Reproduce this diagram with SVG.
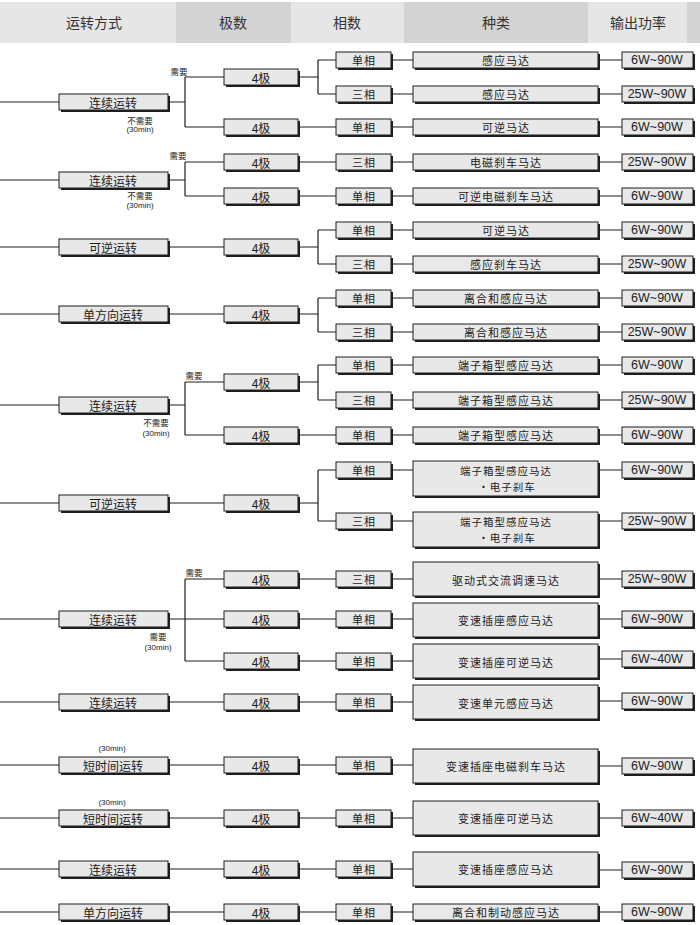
<svg xmlns="http://www.w3.org/2000/svg" width="700" height="925" viewBox="0 0 700 925">
<style>
.hl{fill:#e6e6e6}
.hd{fill:#d3d3d3}
.ht{font-family:"Noto Sans CJK SC",sans-serif;font-size:14px;fill:#333;text-anchor:middle;dominant-baseline:central}
.sh{fill:#1e1e1e}
.bx{fill:#e8e8e8;stroke:#1e1e1e;stroke-width:1}
.t{font-family:"Noto Sans CJK SC",sans-serif;font-size:12px;fill:#222;text-anchor:middle;dominant-baseline:central}
.k{font-family:"Noto Sans CJK SC",sans-serif;font-size:11px;letter-spacing:1px;fill:#222;text-anchor:middle;dominant-baseline:central}
.k2{font-family:"Noto Sans CJK SC",sans-serif;font-size:10.5px;letter-spacing:1px;fill:#222;text-anchor:middle;dominant-baseline:central}
.p{font-family:"Liberation Sans",Arial,sans-serif;font-size:12.5px;fill:#222;text-anchor:middle;dominant-baseline:central}
.s{font-family:"Noto Sans CJK SC",sans-serif;font-size:8.5px;fill:#222;text-anchor:middle;dominant-baseline:central}
.m{font-family:"Liberation Sans",Arial,sans-serif;font-size:8px;fill:#222;text-anchor:middle;dominant-baseline:central}
.ln{stroke:#1e1e1e;stroke-width:1.2;fill:none}
</style>

<g id="header">
<rect class="hl" x="0" y="2" width="176" height="41"/>
<rect class="hd" x="176" y="2" width="115" height="41"/>
<rect class="hl" x="291" y="2" width="113" height="41"/>
<rect class="hd" x="404" y="2" width="184" height="41"/>
<rect class="hl" x="588" y="2" width="99" height="41"/>
<rect class="hd" x="687" y="2" width="13" height="41"/>
<text class="ht" x="94" y="22">运转方式</text>
<text class="ht" x="233" y="22">极数</text>
<text class="ht" x="347" y="22">相数</text>
<text class="ht" x="496" y="22">种类</text>
<text class="ht" x="638" y="22">输出功率</text>
</g>

<g id="connectors">
<path class="ln" d="M0,102H59 M168,102H185 M185,77V127 M185,77H224 M185,127H224 M298,77H318 M318,60V94 M318,60H336 M318,94H336 M298,127H336"/>
<path class="ln" d="M0,180H59 M168,180H185 M185,162V196 M185,162H224 M185,196H224 M298,162H336 M298,196H336"/>
<path class="ln" d="M0,247H59 M168,247H224 M298,247H318 M318,230V264 M318,230H336 M318,264H336"/>
<path class="ln" d="M0,314H59 M168,314H224 M298,314H318 M318,298V332 M318,298H336 M318,332H336"/>
<path class="ln" d="M0,405H59 M168,405H185 M185,382V435 M185,382H224 M185,435H224 M298,382H318 M318,365V400 M318,365H336 M318,400H336 M298,435H336"/>
<path class="ln" d="M0,503H59 M168,503H224 M298,503H318 M318,470V521 M318,470H336 M318,521H336"/>
<path class="ln" d="M0,619H59 M168,619H224 M185,579V661 M185,579H224 M185,661H224 M298,579H336 M298,619H336 M298,661H336"/>
<path class="ln" d="M0,702H59 M168,702H224 M298,702H336"/>
<path class="ln" d="M0,765H59 M168,765H224 M298,765H336"/>
<path class="ln" d="M0,818H59 M168,818H224 M298,818H336"/>
<path class="ln" d="M0,869H59 M168,869H224 M298,869H336"/>
<path class="ln" d="M0,912H59 M168,912H224 M298,912H336"/>
<path class="ln" d="M391,60H413 M598,60H622 M391,94H413 M598,94H622 M391,127H413 M598,127H622 M391,162H413 M598,162H622 M391,196H413 M598,196H622 M391,230H413 M598,230H622 M391,264H413 M598,264H622 M391,298H413 M598,298H622 M391,332H413 M598,332H622 M391,365H413 M598,365H622 M391,400H413 M598,400H622 M391,435H413 M598,435H622 M391,470H413 M598,470H622 M391,521H413 M598,521H622 M391,579H413 M598,579H622 M391,619H413 M598,619H622 M391,661H413 M598,659H622 M391,702H413 M598,701H622 M391,765H413 M598,766H622 M391,818H413 M598,818H622 M391,869H413 M598,870H622 M391,912H413 M598,912H622"/>
</g>

<g id="labels">
<text class="s" x="179" y="71">需要</text>
<text class="s" x="140" y="120">不需要</text>
<text class="m" x="140" y="129">(30min)</text>
<text class="s" x="178" y="155">需要</text>
<text class="s" x="140" y="195">不需要</text>
<text class="m" x="140" y="205">(30min)</text>
<text class="s" x="194" y="375">需要</text>
<text class="s" x="156" y="422">不需要</text>
<text class="m" x="156" y="433">(30min)</text>
<text class="s" x="194" y="572">需要</text>
<text class="s" x="158" y="636">需要</text>
<text class="m" x="158" y="647">(30min)</text>
<text class="m" x="112" y="748">(30min)</text>
<text class="m" x="112" y="802">(30min)</text>
</g>

<g id="run1"><rect class="sh" x="61" y="96" width="109" height="16"/><rect class="bx" x="59" y="94" width="109" height="16"/><text class="t" x="113" y="102">连续运转</text></g>
<g id="run2"><rect class="sh" x="61" y="174" width="109" height="16"/><rect class="bx" x="59" y="172" width="109" height="16"/><text class="t" x="113" y="180">连续运转</text></g>
<g id="run3"><rect class="sh" x="61" y="241" width="109" height="16"/><rect class="bx" x="59" y="239" width="109" height="16"/><text class="t" x="113" y="247">可逆运转</text></g>
<g id="run4"><rect class="sh" x="61" y="308" width="109" height="16"/><rect class="bx" x="59" y="306" width="109" height="16"/><text class="t" x="113" y="314">单方向运转</text></g>
<g id="run5"><rect class="sh" x="61" y="399" width="109" height="16"/><rect class="bx" x="59" y="397" width="109" height="16"/><text class="t" x="113" y="405">连续运转</text></g>
<g id="run6"><rect class="sh" x="61" y="497" width="109" height="16"/><rect class="bx" x="59" y="495" width="109" height="16"/><text class="t" x="113" y="503">可逆运转</text></g>
<g id="run7"><rect class="sh" x="61" y="613" width="109" height="16"/><rect class="bx" x="59" y="611" width="109" height="16"/><text class="t" x="113" y="619">连续运转</text></g>
<g id="run8"><rect class="sh" x="61" y="696" width="109" height="16"/><rect class="bx" x="59" y="694" width="109" height="16"/><text class="t" x="113" y="702">连续运转</text></g>
<g id="run9"><rect class="sh" x="61" y="759" width="109" height="16"/><rect class="bx" x="59" y="757" width="109" height="16"/><text class="t" x="113" y="765">短时间运转</text></g>
<g id="run10"><rect class="sh" x="61" y="812" width="109" height="16"/><rect class="bx" x="59" y="810" width="109" height="16"/><text class="t" x="113" y="818">短时间运转</text></g>
<g id="run11"><rect class="sh" x="61" y="863" width="109" height="16"/><rect class="bx" x="59" y="861" width="109" height="16"/><text class="t" x="113" y="869">连续运转</text></g>
<g id="run12"><rect class="sh" x="61" y="906" width="109" height="16"/><rect class="bx" x="59" y="904" width="109" height="16"/><text class="t" x="113" y="912">单方向运转</text></g>

<g id="pole1"><rect class="sh" x="226" y="71" width="74" height="16"/><rect class="bx" x="224" y="69" width="74" height="16"/><text class="t" x="261" y="77">4极</text></g>
<g id="pole2"><rect class="sh" x="226" y="121" width="74" height="16"/><rect class="bx" x="224" y="119" width="74" height="16"/><text class="t" x="261" y="127">4极</text></g>
<g id="pole3"><rect class="sh" x="226" y="156" width="74" height="16"/><rect class="bx" x="224" y="154" width="74" height="16"/><text class="t" x="261" y="162">4极</text></g>
<g id="pole4"><rect class="sh" x="226" y="190" width="74" height="16"/><rect class="bx" x="224" y="188" width="74" height="16"/><text class="t" x="261" y="196">4极</text></g>
<g id="pole5"><rect class="sh" x="226" y="241" width="74" height="16"/><rect class="bx" x="224" y="239" width="74" height="16"/><text class="t" x="261" y="247">4极</text></g>
<g id="pole6"><rect class="sh" x="226" y="308" width="74" height="16"/><rect class="bx" x="224" y="306" width="74" height="16"/><text class="t" x="261" y="314">4极</text></g>
<g id="pole7"><rect class="sh" x="226" y="376" width="74" height="16"/><rect class="bx" x="224" y="374" width="74" height="16"/><text class="t" x="261" y="382">4极</text></g>
<g id="pole8"><rect class="sh" x="226" y="429" width="74" height="16"/><rect class="bx" x="224" y="427" width="74" height="16"/><text class="t" x="261" y="435">4极</text></g>
<g id="pole9"><rect class="sh" x="226" y="497" width="74" height="16"/><rect class="bx" x="224" y="495" width="74" height="16"/><text class="t" x="261" y="503">4极</text></g>
<g id="pole10"><rect class="sh" x="226" y="573" width="74" height="16"/><rect class="bx" x="224" y="571" width="74" height="16"/><text class="t" x="261" y="579">4极</text></g>
<g id="pole11"><rect class="sh" x="226" y="613" width="74" height="16"/><rect class="bx" x="224" y="611" width="74" height="16"/><text class="t" x="261" y="619">4极</text></g>
<g id="pole12"><rect class="sh" x="226" y="655" width="74" height="16"/><rect class="bx" x="224" y="653" width="74" height="16"/><text class="t" x="261" y="661">4极</text></g>
<g id="pole13"><rect class="sh" x="226" y="696" width="74" height="16"/><rect class="bx" x="224" y="694" width="74" height="16"/><text class="t" x="261" y="702">4极</text></g>
<g id="pole14"><rect class="sh" x="226" y="759" width="74" height="16"/><rect class="bx" x="224" y="757" width="74" height="16"/><text class="t" x="261" y="765">4极</text></g>
<g id="pole15"><rect class="sh" x="226" y="812" width="74" height="16"/><rect class="bx" x="224" y="810" width="74" height="16"/><text class="t" x="261" y="818">4极</text></g>
<g id="pole16"><rect class="sh" x="226" y="863" width="74" height="16"/><rect class="bx" x="224" y="861" width="74" height="16"/><text class="t" x="261" y="869">4极</text></g>
<g id="pole17"><rect class="sh" x="226" y="906" width="74" height="16"/><rect class="bx" x="224" y="904" width="74" height="16"/><text class="t" x="261" y="912">4极</text></g>

<g id="ph1"><rect class="sh" x="338" y="54" width="55" height="16"/><rect class="bx" x="336" y="52" width="55" height="16"/><text class="k" x="364" y="60">单相</text></g>
<g id="ph2"><rect class="sh" x="338" y="88" width="55" height="16"/><rect class="bx" x="336" y="86" width="55" height="16"/><text class="k" x="364" y="94">三相</text></g>
<g id="ph3"><rect class="sh" x="338" y="121" width="55" height="16"/><rect class="bx" x="336" y="119" width="55" height="16"/><text class="k" x="364" y="127">单相</text></g>
<g id="ph4"><rect class="sh" x="338" y="156" width="55" height="16"/><rect class="bx" x="336" y="154" width="55" height="16"/><text class="k" x="364" y="162">三相</text></g>
<g id="ph5"><rect class="sh" x="338" y="190" width="55" height="16"/><rect class="bx" x="336" y="188" width="55" height="16"/><text class="k" x="364" y="196">单相</text></g>
<g id="ph6"><rect class="sh" x="338" y="224" width="55" height="16"/><rect class="bx" x="336" y="222" width="55" height="16"/><text class="k" x="364" y="230">单相</text></g>
<g id="ph7"><rect class="sh" x="338" y="258" width="55" height="16"/><rect class="bx" x="336" y="256" width="55" height="16"/><text class="k" x="364" y="264">三相</text></g>
<g id="ph8"><rect class="sh" x="338" y="292" width="55" height="16"/><rect class="bx" x="336" y="290" width="55" height="16"/><text class="k" x="364" y="298">单相</text></g>
<g id="ph9"><rect class="sh" x="338" y="326" width="55" height="16"/><rect class="bx" x="336" y="324" width="55" height="16"/><text class="k" x="364" y="332">三相</text></g>
<g id="ph10"><rect class="sh" x="338" y="359" width="55" height="16"/><rect class="bx" x="336" y="357" width="55" height="16"/><text class="k" x="364" y="365">单相</text></g>
<g id="ph11"><rect class="sh" x="338" y="394" width="55" height="16"/><rect class="bx" x="336" y="392" width="55" height="16"/><text class="k" x="364" y="400">三相</text></g>
<g id="ph12"><rect class="sh" x="338" y="429" width="55" height="16"/><rect class="bx" x="336" y="427" width="55" height="16"/><text class="k" x="364" y="435">单相</text></g>
<g id="ph13"><rect class="sh" x="338" y="464" width="55" height="16"/><rect class="bx" x="336" y="462" width="55" height="16"/><text class="k" x="364" y="470">单相</text></g>
<g id="ph14"><rect class="sh" x="338" y="515" width="55" height="16"/><rect class="bx" x="336" y="513" width="55" height="16"/><text class="k" x="364" y="521">三相</text></g>
<g id="ph15"><rect class="sh" x="338" y="573" width="55" height="16"/><rect class="bx" x="336" y="571" width="55" height="16"/><text class="k" x="364" y="579">三相</text></g>
<g id="ph16"><rect class="sh" x="338" y="613" width="55" height="16"/><rect class="bx" x="336" y="611" width="55" height="16"/><text class="k" x="364" y="619">单相</text></g>
<g id="ph17"><rect class="sh" x="338" y="655" width="55" height="16"/><rect class="bx" x="336" y="653" width="55" height="16"/><text class="k" x="364" y="661">单相</text></g>
<g id="ph18"><rect class="sh" x="338" y="696" width="55" height="16"/><rect class="bx" x="336" y="694" width="55" height="16"/><text class="k" x="364" y="702">单相</text></g>
<g id="ph19"><rect class="sh" x="338" y="759" width="55" height="16"/><rect class="bx" x="336" y="757" width="55" height="16"/><text class="k" x="364" y="765">单相</text></g>
<g id="ph20"><rect class="sh" x="338" y="812" width="55" height="16"/><rect class="bx" x="336" y="810" width="55" height="16"/><text class="k" x="364" y="818">单相</text></g>
<g id="ph21"><rect class="sh" x="338" y="863" width="55" height="16"/><rect class="bx" x="336" y="861" width="55" height="16"/><text class="k" x="364" y="869">单相</text></g>
<g id="ph22"><rect class="sh" x="338" y="906" width="55" height="16"/><rect class="bx" x="336" y="904" width="55" height="16"/><text class="k" x="364" y="912">单相</text></g>

<g id="ty1"><rect class="sh" x="415" y="54" width="185" height="16"/><rect class="bx" x="413" y="52" width="185" height="16"/><text class="k" x="506" y="60">感应马达</text></g>
<g id="ty2"><rect class="sh" x="415" y="88" width="185" height="16"/><rect class="bx" x="413" y="86" width="185" height="16"/><text class="k" x="506" y="94">感应马达</text></g>
<g id="ty3"><rect class="sh" x="415" y="121" width="185" height="16"/><rect class="bx" x="413" y="119" width="185" height="16"/><text class="k" x="506" y="127">可逆马达</text></g>
<g id="ty4"><rect class="sh" x="415" y="156" width="185" height="16"/><rect class="bx" x="413" y="154" width="185" height="16"/><text class="k" x="506" y="162">电磁刹车马达</text></g>
<g id="ty5"><rect class="sh" x="415" y="190" width="185" height="16"/><rect class="bx" x="413" y="188" width="185" height="16"/><text class="k" x="506" y="196">可逆电磁刹车马达</text></g>
<g id="ty6"><rect class="sh" x="415" y="224" width="185" height="16"/><rect class="bx" x="413" y="222" width="185" height="16"/><text class="k" x="506" y="230">可逆马达</text></g>
<g id="ty7"><rect class="sh" x="415" y="258" width="185" height="16"/><rect class="bx" x="413" y="256" width="185" height="16"/><text class="k" x="506" y="264">感应刹车马达</text></g>
<g id="ty8"><rect class="sh" x="415" y="292" width="185" height="16"/><rect class="bx" x="413" y="290" width="185" height="16"/><text class="k" x="506" y="298">离合和感应马达</text></g>
<g id="ty9"><rect class="sh" x="415" y="326" width="185" height="16"/><rect class="bx" x="413" y="324" width="185" height="16"/><text class="k" x="506" y="332">离合和感应马达</text></g>
<g id="ty10"><rect class="sh" x="415" y="359" width="185" height="16"/><rect class="bx" x="413" y="357" width="185" height="16"/><text class="k" x="506" y="365">端子箱型感应马达</text></g>
<g id="ty11"><rect class="sh" x="415" y="394" width="185" height="16"/><rect class="bx" x="413" y="392" width="185" height="16"/><text class="k" x="506" y="400">端子箱型感应马达</text></g>
<g id="ty12"><rect class="sh" x="415" y="429" width="185" height="16"/><rect class="bx" x="413" y="427" width="185" height="16"/><text class="k" x="506" y="435">端子箱型感应马达</text></g>
<g id="ty13"><rect class="sh" x="415" y="463" width="185" height="35"/><rect class="bx" x="413" y="461" width="185" height="35"/><text class="k2" x="506" y="470.5">端子箱型感应马达</text><text class="k2" x="507" y="486.5">・电子刹车</text></g>
<g id="ty14"><rect class="sh" x="415" y="514" width="185" height="35"/><rect class="bx" x="413" y="512" width="185" height="35"/><text class="k2" x="506" y="521.5">端子箱型感应马达</text><text class="k2" x="507" y="537.5">・电子刹车</text></g>
<g id="ty15"><rect class="sh" x="415" y="564" width="185" height="34"/><rect class="bx" x="413" y="562" width="185" height="34"/><text class="k" x="506" y="580">驱动式交流调速马达</text></g>
<g id="ty16"><rect class="sh" x="415" y="605" width="185" height="34"/><rect class="bx" x="413" y="603" width="185" height="34"/><text class="k" x="506" y="620">变速插座感应马达</text></g>
<g id="ty17"><rect class="sh" x="415" y="646" width="185" height="34"/><rect class="bx" x="413" y="644" width="185" height="34"/><text class="k" x="506" y="662">变速插座可逆马达</text></g>
<g id="ty18"><rect class="sh" x="415" y="687" width="185" height="34"/><rect class="bx" x="413" y="685" width="185" height="34"/><text class="k" x="506" y="703">变速单元感应马达</text></g>
<g id="ty19"><rect class="sh" x="415" y="751" width="185" height="34"/><rect class="bx" x="413" y="749" width="185" height="34"/><text class="k" x="506" y="766">变速插座电磁刹车马达</text></g>
<g id="ty20"><rect class="sh" x="415" y="803" width="185" height="34"/><rect class="bx" x="413" y="801" width="185" height="34"/><text class="k" x="506" y="818">变速插座可逆马达</text></g>
<g id="ty21"><rect class="sh" x="415" y="854" width="185" height="34"/><rect class="bx" x="413" y="852" width="185" height="34"/><text class="k" x="506" y="869">变速插座感应马达</text></g>
<g id="ty22"><rect class="sh" x="415" y="906" width="185" height="16"/><rect class="bx" x="413" y="904" width="185" height="16"/><text class="k" x="506" y="912">离合和制动感应马达</text></g>

<g id="pw1"><rect class="sh" x="624" y="54" width="71" height="16"/><rect class="bx" x="622" y="52" width="71" height="16"/><text class="p" x="657" y="60">6W~90W</text></g>
<g id="pw2"><rect class="sh" x="624" y="88" width="71" height="16"/><rect class="bx" x="622" y="86" width="71" height="16"/><text class="p" x="657" y="94">25W~90W</text></g>
<g id="pw3"><rect class="sh" x="624" y="121" width="71" height="16"/><rect class="bx" x="622" y="119" width="71" height="16"/><text class="p" x="657" y="127">6W~90W</text></g>
<g id="pw4"><rect class="sh" x="624" y="156" width="71" height="16"/><rect class="bx" x="622" y="154" width="71" height="16"/><text class="p" x="657" y="162">25W~90W</text></g>
<g id="pw5"><rect class="sh" x="624" y="190" width="71" height="16"/><rect class="bx" x="622" y="188" width="71" height="16"/><text class="p" x="657" y="196">6W~90W</text></g>
<g id="pw6"><rect class="sh" x="624" y="224" width="71" height="16"/><rect class="bx" x="622" y="222" width="71" height="16"/><text class="p" x="657" y="230">6W~90W</text></g>
<g id="pw7"><rect class="sh" x="624" y="258" width="71" height="16"/><rect class="bx" x="622" y="256" width="71" height="16"/><text class="p" x="657" y="264">25W~90W</text></g>
<g id="pw8"><rect class="sh" x="624" y="292" width="71" height="16"/><rect class="bx" x="622" y="290" width="71" height="16"/><text class="p" x="657" y="298">6W~90W</text></g>
<g id="pw9"><rect class="sh" x="624" y="326" width="71" height="16"/><rect class="bx" x="622" y="324" width="71" height="16"/><text class="p" x="657" y="332">25W~90W</text></g>
<g id="pw10"><rect class="sh" x="624" y="359" width="71" height="16"/><rect class="bx" x="622" y="357" width="71" height="16"/><text class="p" x="657" y="365">6W~90W</text></g>
<g id="pw11"><rect class="sh" x="624" y="394" width="71" height="16"/><rect class="bx" x="622" y="392" width="71" height="16"/><text class="p" x="657" y="400">25W~90W</text></g>
<g id="pw12"><rect class="sh" x="624" y="429" width="71" height="16"/><rect class="bx" x="622" y="427" width="71" height="16"/><text class="p" x="657" y="435">6W~90W</text></g>
<g id="pw13"><rect class="sh" x="624" y="464" width="71" height="16"/><rect class="bx" x="622" y="462" width="71" height="16"/><text class="p" x="657" y="470">6W~90W</text></g>
<g id="pw14"><rect class="sh" x="624" y="515" width="71" height="16"/><rect class="bx" x="622" y="513" width="71" height="16"/><text class="p" x="657" y="521">25W~90W</text></g>
<g id="pw15"><rect class="sh" x="624" y="573" width="71" height="16"/><rect class="bx" x="622" y="571" width="71" height="16"/><text class="p" x="657" y="579">25W~90W</text></g>
<g id="pw16"><rect class="sh" x="624" y="613" width="71" height="16"/><rect class="bx" x="622" y="611" width="71" height="16"/><text class="p" x="657" y="619">6W~90W</text></g>
<g id="pw17"><rect class="sh" x="624" y="653" width="71" height="16"/><rect class="bx" x="622" y="651" width="71" height="16"/><text class="p" x="657" y="659">6W~40W</text></g>
<g id="pw18"><rect class="sh" x="624" y="695" width="71" height="16"/><rect class="bx" x="622" y="693" width="71" height="16"/><text class="p" x="657" y="701">6W~90W</text></g>
<g id="pw19"><rect class="sh" x="624" y="760" width="71" height="16"/><rect class="bx" x="622" y="758" width="71" height="16"/><text class="p" x="657" y="766">6W~90W</text></g>
<g id="pw20"><rect class="sh" x="624" y="812" width="71" height="16"/><rect class="bx" x="622" y="810" width="71" height="16"/><text class="p" x="657" y="818">6W~40W</text></g>
<g id="pw21"><rect class="sh" x="624" y="864" width="71" height="16"/><rect class="bx" x="622" y="862" width="71" height="16"/><text class="p" x="657" y="870">6W~90W</text></g>
<g id="pw22"><rect class="sh" x="624" y="906" width="71" height="16"/><rect class="bx" x="622" y="904" width="71" height="16"/><text class="p" x="657" y="912">6W~90W</text></g>
</svg>
